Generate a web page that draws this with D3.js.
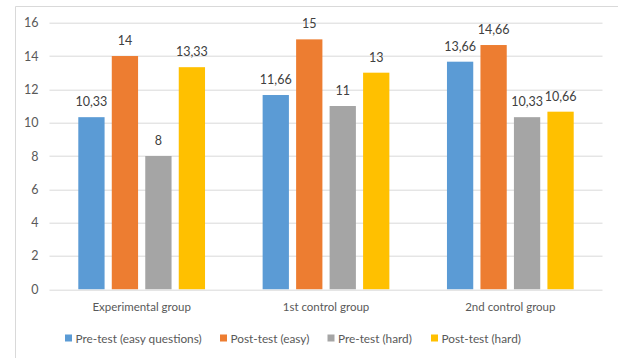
<!DOCTYPE html>
<html>
<head>
<meta charset="utf-8">
<script src="https://cdn.jsdelivr.net/npm/d3@7"></script>
<style>
  html, body { margin: 0; padding: 0; background: #fff; }
  svg { display: block; font-family: Lato, "Open Sans", sans-serif; }
</style>
</head>
<body>
<svg id="chart" width="618" height="358"></svg>
<script>
// Mean scores per group and test type
const groups = ["Experimental group", "1st control group", "2nd control group"];
const seriesNames = ["Pre-test (easy questions)", "Post-test (easy)", "Pre-test (hard)", "Post-test (hard)"];
const preEasy  = [10.33, 11.66, 13.66];
const postEasy = [14, 15, 14.66];
const preHard  = [8, 11, 10.33];
const postHard = [13.33, 13, 10.66];
const yTicks = [0, 2, 4, 6, 8, 10, 12, 14, 16];

const colors = ["#5b9bd5", "#ed7d31", "#a5a5a5", "#ffc000"];
const seriesValues = [preEasy, postEasy, preHard, postHard];

const svg = d3.select("#chart");
const W = 618, H = 358;
const margin = { left: 49.5, right: 15.5, top: 22.7, bottom: 68.7 };
const plotW = W - margin.left - margin.right;
const plotH = H - margin.top - margin.bottom;

// Outer chart frame (top and left edges visible)
svg.append("line").attr("x1", 15.5).attr("x2", W).attr("y1", 6.5).attr("y2", 6.5)
  .attr("stroke", "#d9d9d9").attr("stroke-width", 1);
svg.append("line").attr("x1", 15.5).attr("x2", 15.5).attr("y1", 6.5).attr("y2", H)
  .attr("stroke", "#d9d9d9").attr("stroke-width", 1);

const g = svg.append("g").attr("transform", `translate(${margin.left},${margin.top})`);

const y = d3.scaleLinear().domain([0, 16]).range([plotH, 0]);
const x0 = d3.scaleBand().domain(groups).range([0, plotW]).paddingInner(0).paddingOuter(0);
const x1 = d3.scaleBand().domain(seriesNames).range([0, x0.bandwidth()])
  .paddingInner(0.215).paddingOuter(0.86);

// Gridlines
g.append("g").selectAll("line").data(yTicks.filter(d => d > 0)).join("line")
  .attr("x1", 0).attr("x2", plotW)
  .attr("y1", d => Math.round(y(d)) + 0.5).attr("y2", d => Math.round(y(d)) + 0.5)
  .attr("stroke", "#d9d9d9").attr("stroke-width", 1);

// Y axis labels
const yAxis = d3.axisLeft(y).tickValues(yTicks).tickSize(0).tickPadding(11);
const ya = g.append("g").call(yAxis);
ya.select(".domain").remove();
ya.selectAll("text").attr("fill", "#595959").attr("font-size", "12.5px")
  .attr("font-family", "Lato, sans-serif");

// Bars
const rows = groups.map((grp, i) => ({ grp, vals: seriesValues.map((s, k) => ({ k, name: seriesNames[k], v: s[i] })) }));
const grpSel = g.append("g").selectAll("g").data(rows).join("g")
  .attr("transform", d => `translate(${x0(d.grp)},0)`);

grpSel.selectAll("rect").data(d => d.vals).join("rect")
  .attr("x", d => x1(d.name))
  .attr("y", d => y(d.v))
  .attr("width", x1.bandwidth())
  .attr("height", d => y(0) - y(d.v))
  .attr("fill", d => colors[d.k]);

const fmt = v => String(v).replace(".", ",");
grpSel.selectAll("text").data(d => d.vals).join("text")
  .attr("x", d => x1(d.name) + x1.bandwidth() / 2)
  .attr("y", d => y(d.v) - 11)
  .attr("text-anchor", "middle")
  .attr("fill", "#404040")
  .attr("font-size", "12.5px")
  .text(d => fmt(d.v));

// X axis baseline and category labels
const xAxis = d3.axisBottom(x0).tickSize(0).tickPadding(13);
const xa = g.append("g").attr("transform", `translate(0,${Math.round(plotH) + 0.5})`).call(xAxis);
xa.select(".domain").attr("stroke", "#d9d9d9").attr("d", `M0,0H${plotW}`);
xa.selectAll("text").attr("fill", "#595959").attr("font-size", "11.5px")
  .attr("font-family", "Lato, sans-serif");

// Legend
const legendX = [65, 220, 327.5, 431];
const lg = svg.append("g").selectAll("g").data(seriesNames).join("g")
  .attr("transform", (d, i) => `translate(${legendX[i]},334.5)`);
lg.append("rect").attr("width", 7).attr("height", 7).attr("fill", (d, i) => colors[i]);
lg.append("text").attr("x", 10.5).attr("y", 8).attr("fill", "#595959")
  .attr("font-size", "11.8px").text(d => d);
</script>
</body>
</html>
